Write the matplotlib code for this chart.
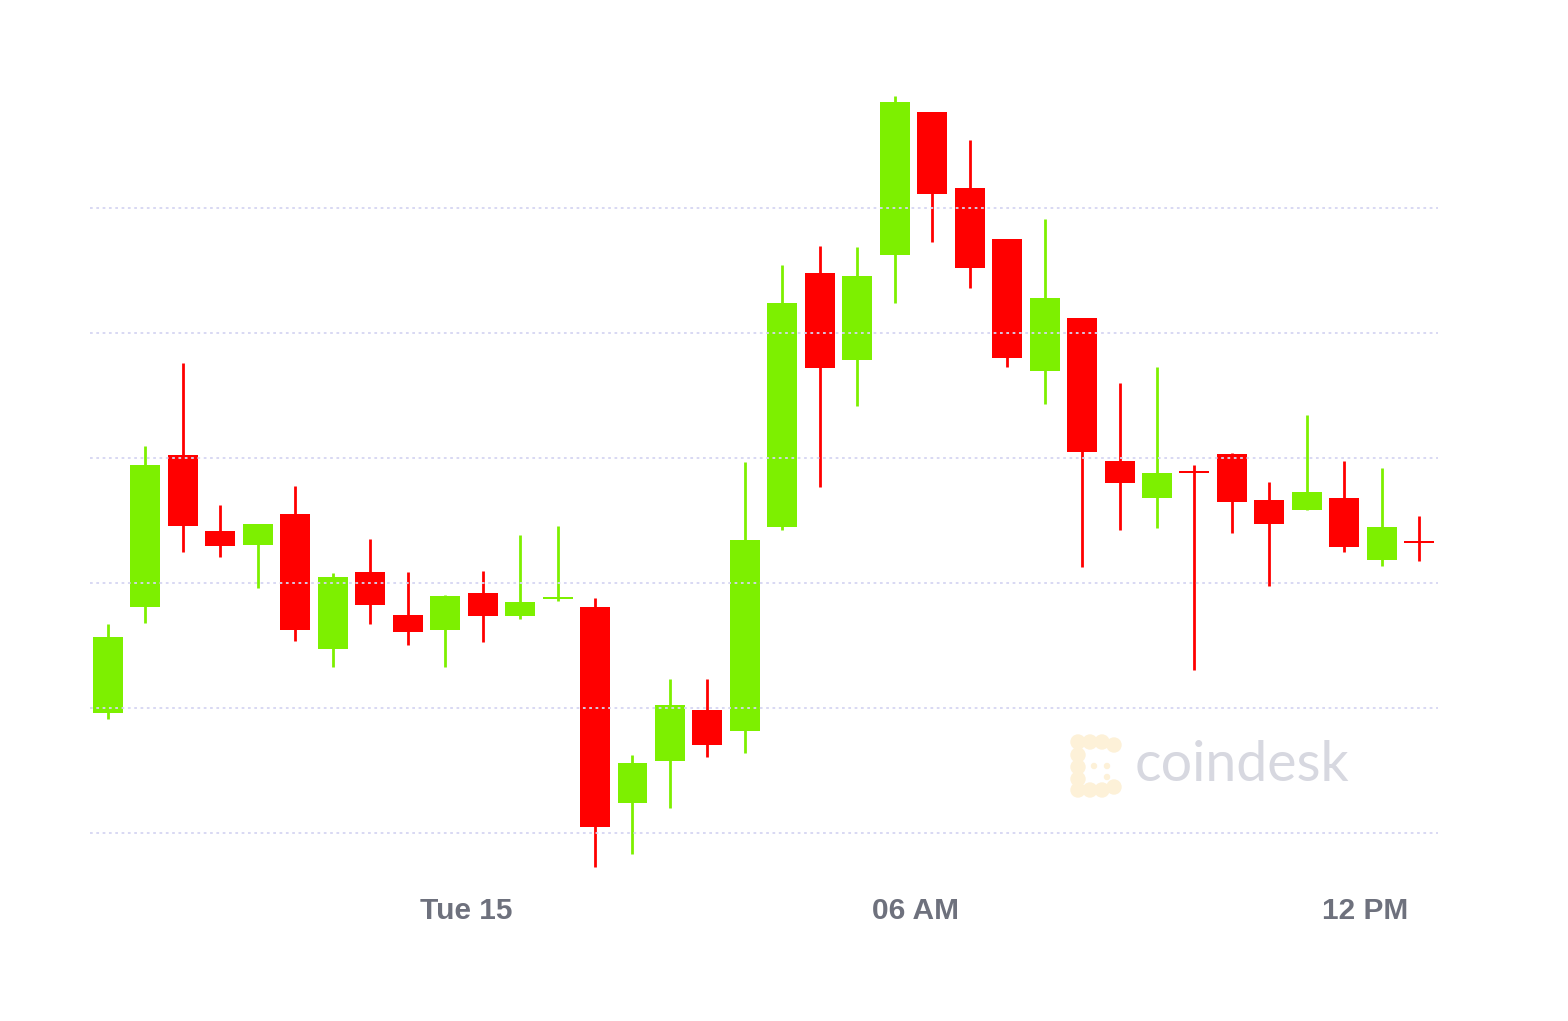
import matplotlib
matplotlib.use("Agg")
import matplotlib.pyplot as plt
from matplotlib.patches import Circle
import numpy as np

# ---- data (30-minute candles) ----
opens  = [39481, 39905, 40512, 40208, 40152, 40277, 39736, 40044, 39873, 39812,
          39961, 39869, 39935, 39905, 39120, 39288, 39492, 39409, 40225, 41240,
          40892, 41313, 41885, 41580, 41376, 40849, 41060, 40488, 40341, 40445,
          40515, 40332, 40291, 40340, 40091, 40164]
highs  = [39836, 40548, 40880, 40312, 40236, 40389, 40040, 40176, 40045, 39952,
          40049, 40192, 40228, 39940, 39312, 39616, 39616, 40485, 41272, 41349,
          41344, 41948, 41885, 41772, 41376, 41456, 41060, 40801, 40865, 40472,
          40519, 40405, 40672, 40487, 40459, 40269]
lows   = [39456, 39841, 40124, 40104, 39980, 39768, 39664, 39836, 39752, 39664,
          39764, 39856, 39928, 38864, 38916, 39100, 39305, 39320, 40212, 40384,
          40708, 41120, 41365, 41180, 40864, 40716, 40065, 40212, 40220, 39652,
          40199, 39988, 40291, 40123, 40068, 40088]
closes = [39785, 40472, 40228, 40148, 40236, 39812, 40025, 39912, 39804, 39948,
          39869, 39924, 39943, 39025, 39281, 39512, 39352, 40172, 41121, 40860,
          41229, 41923, 41556, 41260, 40901, 41140, 40524, 40400, 40441, 40440,
          40323, 40237, 40364, 40143, 40223, 40162]
grid_levels = [39000, 39500, 40000, 40500, 41000, 41500]
tick_pos = [9.55, 21.55, 33.55]
tick_labels = ["Tue 15", "06 AM", "12 PM"]

GREEN = "#7df000"
RED = "#ff0000"

fig = plt.figure(figsize=(15.68, 10.21), dpi=100)
fig.patch.set_facecolor("white")
ax = fig.add_axes([90/1568, 1-880/1021, (1438-90)/1568, (880-85)/1021])
ax.set_xlim(-0.48, 35.5)
ax.set_ylim(38812, 41992)

x = np.arange(len(opens))
o = np.array(opens); c = np.array(closes); h = np.array(highs); l = np.array(lows)
up = c >= o
colors = [GREEN if u else RED for u in up]
bottoms = np.minimum(o, c)
heights = np.maximum(np.abs(c - o), 7)

ax.vlines(x, l, h, colors=colors, linewidth=2.0, zorder=2)
ax.bar(x, heights, bottom=bottoms, width=0.8, color=colors, linewidth=0, zorder=3)

for g in grid_levels:
    ax.axhline(g, color="#d6d6f2", linewidth=1.3, linestyle=(0, (1.5, 2)), zorder=4)

ax.set_xticks(tick_pos)
ax.set_xticklabels(tick_labels, fontsize=21.5, fontweight="bold", color="#6e717d",
                   family=["Liberation Sans", "DejaVu Sans"])
ax.tick_params(axis="x", length=0, pad=12)
ax.set_yticks([])
for s in ax.spines.values():
    s.set_visible(False)

# coindesk watermark
fig.text(1135/1568, 1-765/1021, "coindesk", fontsize=40, color="#d7d8e0",
         family=["Lato", "DejaVu Sans"], va="center", ha="left", zorder=1)
logo_col = "#fdf1d8"
for (px, py) in [(1078, 742), (1090, 742), (1102, 742), (1114, 745), (1078, 755),
                 (1078, 767), (1078, 779), (1078, 790), (1090, 790), (1102, 790), (1114, 787)]:
    fig.patches.append(Circle((px, 1021-py), 7, transform=None, color=logo_col, zorder=0))
for (px, py) in [(1094, 766), (1107, 766), (1107, 777)]:
    fig.patches.append(Circle((px, 1021-py), 2.5, transform=None, color=logo_col, zorder=0))

fig.savefig("out.png", dpi=100, facecolor="white")
